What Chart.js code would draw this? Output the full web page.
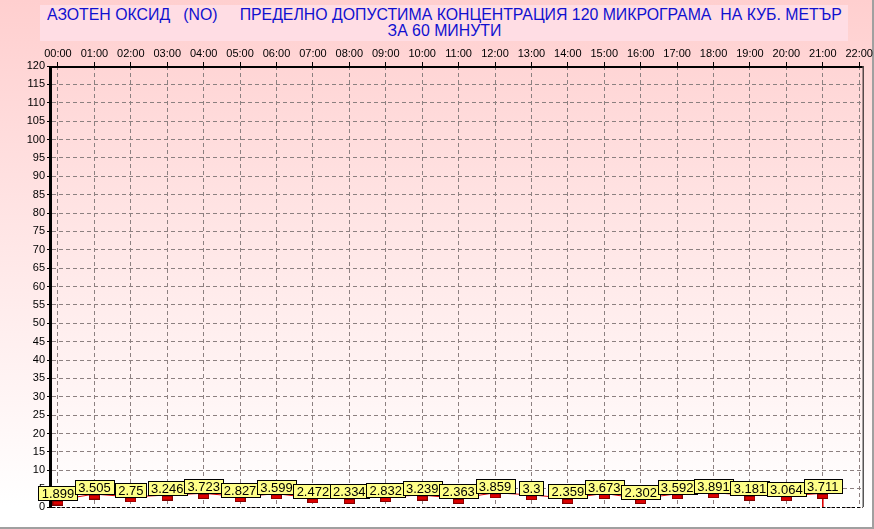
<!DOCTYPE html>
<html>
<head>
<meta charset="utf-8">
<script src="https://cdn.jsdelivr.net/npm/chart.js@4.4.1/dist/chart.umd.min.js"></script>
<style>
  html, body { margin: 0; padding: 0; }
  #wrap {
    position: relative;
    width: 872px; height: 527px;
    background: linear-gradient(to bottom, #ffcfcf 0%, #ffe6e6 45%, #ffffff 96%);
    border-right: 2px solid #a0a0a0;
    border-bottom: 2px solid #a0a0a0;
    font-family: "Liberation Sans", Arial, sans-serif;
  }
  #title {
    position: absolute; left: 40px; top: 5px; width: 808px; height: 36px;
    background: #ffdde4;
    color: #1010d0; font-size: 16px; line-height: 16px;
    text-align: center; padding-top: 2px; box-sizing: border-box;
    white-space: pre;
  }
  #title span { display: inline-block; transform: scaleX(0.99); }
  canvas { position: absolute; left: 0; top: 0; }
</style>
</head>
<body>
<div id="wrap">
  <div id="title"><span>АЗОТЕН ОКСИД   (NO)     ПРЕДЕЛНО ДОПУСТИМА КОНЦЕНТРАЦИЯ 120 МИКРОГРАМА  НА КУБ. МЕТЪР</span><br><span>ЗА 60 МИНУТИ</span></div>
  <canvas id="chart" width="874" height="529"></canvas>
</div>
<script>
// часове и стойности (микрограма/м3)
const hours = [0, 1, 2, 3, 4, 5, 6, 7, 8, 9, 10, 11, 12, 13, 14, 15, 16, 17, 18, 19, 20, 21];
const values = [1.899, 3.505, 2.75, 3.246, 3.723, 2.827, 3.599, 2.472, 2.334, 2.832, 3.239,
                2.363, 3.859, 3.3, 2.359, 3.673, 2.302, 3.592, 3.891, 3.181, 3.064, 3.711];
const hourTicks = [0, 1, 2, 3, 4, 5, 6, 7, 8, 9, 10, 11, 12, 13, 14, 15, 16, 17, 18, 19, 20, 21, 22];
const valueLabels = ['1.899', '3.505', '2.75', '3.246', '3.723', '2.827', '3.599', '2.472', '2.334', '2.832', '3.239',
                     '2.363', '3.859', '3.3', '2.359', '3.673', '2.302', '3.592', '3.891', '3.181', '3.064', '3.711'];

// малко червено правоъгълниче под точката
const marker = document.createElement('canvas');
marker.width = 11; marker.height = 11;
const mc = marker.getContext('2d');
mc.fillStyle = '#dd0000';
mc.fillRect(0, 6, 11, 5);
mc.strokeStyle = '#800000';
mc.lineWidth = 1;
mc.strokeRect(0.5, 6.5, 10, 4);

const points = hours.map((h, i) => ({ x: h, y: values[i] }));
const last = points[points.length - 1];

const frame = {
  id: 'frame',
  beforeDatasetsDraw(chart) {
    const a = chart.chartArea, c = chart.ctx;
    c.save();
    c.strokeStyle = '#000';
    c.lineWidth = 3;
    c.beginPath(); c.moveTo(a.left - 1.5, a.top); c.lineTo(a.left - 1.5, a.bottom); c.stroke();
    c.lineWidth = 2;
    c.beginPath(); c.moveTo(a.left, a.top + 1); c.lineTo(a.right, a.top + 1); c.stroke();
    c.lineWidth = 1;
    c.beginPath(); c.moveTo(a.right + 0.5, a.top); c.lineTo(a.right + 0.5, a.bottom); c.stroke();
    c.setLineDash([3, 2]);
    c.beginPath(); c.moveTo(a.left, a.bottom + 0.5); c.lineTo(a.right, a.bottom + 0.5); c.stroke();
    c.restore();
  }
};

const valueBoxes = {
  id: 'valueBoxes',
  afterDatasetsDraw(chart) {
    const c = chart.ctx;
    const meta = chart.getDatasetMeta(0);
    c.save();
    c.font = '13px "Liberation Sans", Arial, sans-serif';
    c.textAlign = 'center';
    c.textBaseline = 'middle';
    const h = 14;
    const boxes = meta.data.map((pt, i) => {
      const w = Math.round(c.measureText(valueLabels[i]).width) + 6;
      return { x: Math.round(pt.x - w / 2) + 0.5, y: Math.round(pt.y) - h + 0.5, w, cx: pt.x };
    });
    boxes.forEach(b => {
      c.fillStyle = '#ffff88';
      c.fillRect(b.x, b.y, b.w, h);
      c.strokeStyle = '#000';
      c.lineWidth = 1;
      c.strokeRect(b.x, b.y, b.w, h);
    });
    c.fillStyle = '#000';
    boxes.forEach((b, i) => c.fillText(valueLabels[i], b.cx, b.y + h / 2 + 0.5));
    c.restore();
  }
};

new Chart(document.getElementById('chart'), {
  type: 'line',
  data: {
    datasets: [{
      data: points,
      borderColor: '#dd0000',
      borderWidth: 1,
      pointStyle: marker,
      pointRadius: 5,
      tension: 0,
      clip: false
    }, {
      data: [{ x: last.x, y: last.y }, { x: last.x, y: 0 }],
      borderColor: '#dd0000',
      borderWidth: 1,
      pointRadius: 0
    }]
  },
  options: {
    responsive: false,
    animation: false,
    events: [],
    layout: { padding: { top: 44, left: 0, right: 9, bottom: 22 } },
    plugins: { legend: { display: false }, tooltip: { enabled: false } },
    scales: {
      x: {
        type: 'linear',
        position: 'top',
        min: -0.164,
        max: 22.095,
        afterBuildTicks(s) { s.ticks = hourTicks.map(v => ({ value: v })); },
        afterFit(s) { s.height = 22; },
        ticks: {
          color: '#000',
          font: { family: '"Liberation Sans", Arial', size: 11 },
          padding: 1,
          maxRotation: 0,
          autoSkip: false,
          callback: v => String(v).padStart(2, '0') + ':00'
        },
        grid: { color: '#8c8080', lineWidth: 1, tickLength: 4, tickColor: '#000' },
        border: { display: false, dash: [4, 3] }
      },
      y: {
        min: 0,
        max: 120,
        afterFit(s) { s.width = 52; },
        ticks: {
          stepSize: 5,
          color: '#000',
          font: { family: '"Liberation Sans", Arial', size: 11 },
          padding: 2
        },
        grid: { color: '#8c8080', lineWidth: 1, tickLength: 5, tickColor: '#000' },
        border: { display: false, dash: [4, 3] }
      }
    }
  },
  plugins: [frame, valueBoxes]
});
</script>
</body>
</html>
